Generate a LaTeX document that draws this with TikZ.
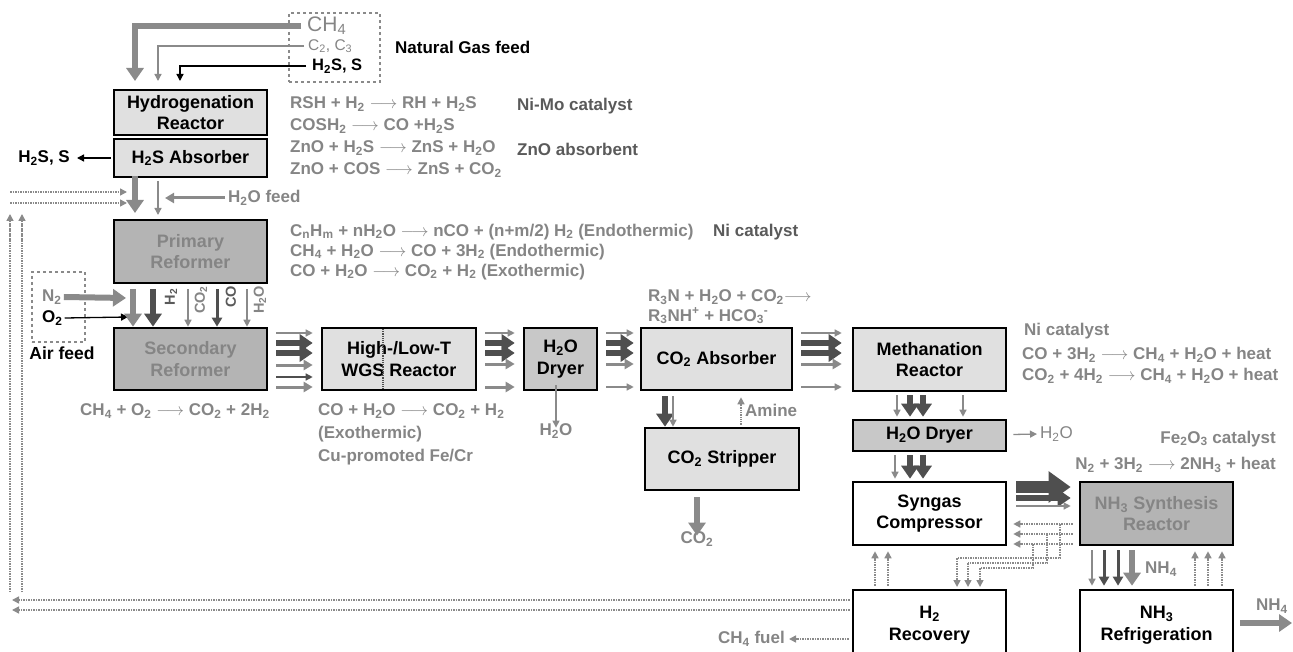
\documentclass[tikz,border=0pt]{standalone}
\usepackage{fontspec}
\setmainfont{Liberation Sans}
\usetikzlibrary{arrows.meta,calc}
\newcommand\sbs[1]{\textsubscript{#1}}
\newcommand\sps[1]{\textsuperscript{#1}}
\newcommand\ra{$\longrightarrow$}
\definecolor{txtgray}{HTML}{858585}
\definecolor{catgray}{HTML}{5A5A5A}
\definecolor{arrgray}{HTML}{8A8A8A}
\definecolor{arrdark}{HTML}{4F4F4F}
\definecolor{fillA}{HTML}{E0E0E0}
\definecolor{fillB}{HTML}{C8C8C8}
\definecolor{fillC}{HTML}{B4B4B4}
\begin{document}
\begin{tikzpicture}[x=1pt,y=-1pt,
  unit/.style={draw=black, line width=2.6pt, minimum width=153pt, minimum height=63pt, align=center, inner sep=0pt, font=\bfseries\fontsize{18}{21.5}\selectfont},
  eq/.style={anchor=west, inner sep=0pt, text=txtgray, font=\bfseries\fontsize{17}{20}\selectfont},
  cat/.style={anchor=west, inner sep=0pt, text=catgray, font=\bfseries\fontsize{17}{20}\selectfont},
  lbl/.style={inner sep=0pt, font=\bfseries\fontsize{17}{20}\selectfont},
  athin/.style={draw=arrgray, line width=1.3pt, -{Triangle[width=7pt,length=7pt]}},
  athind/.style={draw=arrdark, line width=1.3pt, -{Triangle[width=7pt,length=7pt]}},
  athinb/.style={draw=black, line width=1.3pt, -{Triangle[width=7pt,length=7pt]}},
  amed/.style={draw=arrgray, line width=3pt, -{Triangle[width=10pt,length=9pt]}},
  ameddark/.style={draw=arrdark, line width=3pt, -{Triangle[width=10pt,length=9pt]}},
  athick/.style={draw=arrdark, line width=6pt, -{Triangle[width=17pt,length=13pt]}},
  athickg/.style={draw=arrgray, line width=6pt, -{Triangle[width=17pt,length=13pt]}},
  ahuge/.style={draw=arrdark, line width=12pt, -{Triangle[width=30pt,length=22pt]}},
  recyc/.style={draw=arrgray, line width=1.5pt, densely dotted, -{Triangle[width=7pt,length=7pt]}},
  recycl/.style={draw=arrgray, line width=1.5pt, densely dotted},
]
\useasboundingbox (0,0) rectangle (1293,652);
\clip (0,0) rectangle (1293,652);

% ---------- natural gas feed ----------
\node[draw=arrgray, dashed, line width=1.8pt, minimum width=91pt, minimum height=69pt, inner sep=0pt] (ngbox) at (334.5,47.5) {};
\node[anchor=west, inner sep=0pt, text=txtgray, font=\fontsize{21}{24}\selectfont] (ch4) at (307,26) {CH\sbs{4}};
\node[anchor=west, inner sep=0pt, text=txtgray, font=\fontsize{15.5}{18}\selectfont] (c23) at (308,46) {C\sbs{2}, C\sbs{3}};
\node[anchor=west, inner sep=0pt, font=\bfseries\fontsize{16.5}{19}\selectfont] (h2sin) at (312,66) {H\sbs{2}S, S};
\node[lbl, anchor=west] (ngl) at (395,47) {Natural Gas feed};

% ---------- units ----------
\node[unit, fill=fillA, minimum height=45pt] (hyd) at (190.5,112.5) {Hydrogenation\\Reactor};
\node[unit, fill=fillA, minimum height=38pt] (abs) at (190.5,158) {H\sbs{2}S Absorber};
\node[unit, fill=fillC, text=txtgray] (prim) at (190.5,251.5) {Primary\\Reformer};
\node[unit, fill=fillC, text=txtgray, minimum height=62pt] (sec) at (190.5,359) {Secondary\\Reformer};
\node[unit, fill=fillA, minimum width=154pt, minimum height=62pt] (wgs) at (399,359) {High-/Low-T\\WGS Reactor};
\node[unit, fill=fillB, minimum width=73pt, minimum height=62pt] (dry1) at (560.5,359) {H\sbs{2}O\\Dryer};
\node[unit, fill=fillA, minimum width=151pt, minimum height=62pt] (absb) at (716.5,359) {CO\sbs{2} Absorber};
\node[unit, fill=fillA, minimum width=154pt, minimum height=62pt] (strip) at (722,459) {CO\sbs{2} Stripper};
\node[unit, fill=fillA] (meth) at (929.5,359.5) {Methanation\\Reactor};
\node[unit, fill=fillB, minimum height=31pt] (dry2) at (929.5,435.5) {H\sbs{2}O Dryer};
\node[unit, fill=white] (syn) at (929.5,513.5) {Syngas\\Compressor};
\node[unit, fill=fillC, text=txtgray] (nh3) at (1156.5,513.5) {NH\sbs{3} Synthesis\\Reactor};
\node[unit, fill=white, minimum height=70pt] (h2r) at (929.5,625) {H\sbs{2}\\Recovery};
\node[unit, fill=white, minimum height=70pt] (nh3r) at (1156.5,625) {NH\sbs{3}\\Refrigeration};
\draw[arrdark, line width=1.2pt, densely dotted] (383,329) -- (383,389);

% ---------- feed arrows ----------
\coordinate (f1) at (135,81);
\coordinate (f2) at (158,81);
\coordinate (f3) at (180,81);
\draw[athickg] ([xshift=-6pt]ch4.west) -| (f1);
\draw[athin] ([xshift=-4pt]c23.west) -| (f2);
\draw[athinb] ([xshift=-6pt]h2sin.west) -| (f3);

% ---------- hydrogenation / absorber ----------
\node[eq] (e1) at (290,104) {RSH + H\sbs{2} \ra{} RH + H\sbs{2}S};
\node[eq] (e2) at (290,126) {COSH\sbs{2} \ra{} CO +H\sbs{2}S};
\node[eq] (e3) at (290,148) {ZnO + H\sbs{2}S \ra{} ZnS + H\sbs{2}O};
\node[eq] (e4) at (290,170) {ZnO + COS \ra{} ZnS + CO\sbs{2}};
\node[cat] (c1) at (517,106) {Ni-Mo catalyst};
\node[cat] (c2) at (517,149) {ZnO absorbent};
\node[lbl, anchor=east] (h2sout) at (70,158) {H\sbs{2}S, S};
\draw[athinb] ([xshift=-2pt]abs.west) -- ([xshift=7pt]h2sout.east);
\draw[athickg] ([yshift=2pt]abs.south -| 135,0) -- (135,213);
\coordinate (g1) at (158,181);
\coordinate (g2) at (158,215);
\draw[athin] (g1) -- (g2);
\node[anchor=west, inner sep=0pt, text=txtgray, font=\bfseries\fontsize{17}{20}\selectfont] (h2of) at (228,198) {H\sbs{2}O feed};
\draw[amed] ([xshift=-3pt]h2of.west) -- (165,198);

% ---------- recycle lines ----------
\draw[recyc] (10,192) -- (127,192);
\draw[recyc] (10,203) -- (127,203);
\draw[recycl] (10,592) -- (10,216);
\draw[recyc] (10,240) -- (10,214);
\draw[recycl] (22,592) -- (22,216);
\draw[recyc] (22,240) -- (22,214);
\draw[recyc] ($(h2r.west|-0,600)+(-2,0)$) -- (12,600);
\draw[recyc] ($(h2r.west|-0,610)+(-2,0)$) -- (12,610);

% ---------- primary reformer ----------
\node[eq] (e5) at (290,232) {C\sbs{n}H\sbs{m} + nH\sbs{2}O \ra{} nCO + (n+m/2) H\sbs{2} (Endothermic)};
\node[eq] (e6) at (290,252) {CH\sbs{4} + H\sbs{2}O \ra{} CO + 3H\sbs{2} (Endothermic)};
\node[eq] (e7) at (290,272) {CO + H\sbs{2}O \ra{} CO\sbs{2} + H\sbs{2} (Exothermic)};
\node[cat] (c3) at (713,232) {Ni catalyst};

% ---------- air feed ----------
\node[draw=arrgray, dashed, line width=1.8pt, minimum width=53pt, minimum height=70pt, inner sep=0pt] (airbox) at (58.5,307) {};
\node[lbl, text=txtgray, anchor=west] (n2) at (42,297) {N\sbs{2}};
\node[lbl, anchor=west] (o2) at (42,318) {O\sbs{2}};
\node[lbl, font=\bfseries\fontsize{17.5}{20}\selectfont] (airl) at (62,353) {Air feed};
\draw[athickg] ([xshift=2pt]n2.east) -- (126,298);
\draw[athinb] ([xshift=2pt]o2.east) -- (128,317);

% ---------- primary -> secondary ----------
\foreach \xx/\st in {133/athickg, 153/athick, 188/athin, 217/ameddark, 247/athin}
  \draw[\st] (prim.south -| \xx,0) ++(0,5) -- (sec.north -| \xx,0);
\node[rotate=90, inner sep=0pt, text=catgray, font=\bfseries\fontsize{14.5}{16}\selectfont] (lh2) at (171,297) {H\sbs{2}};
\node[rotate=90, inner sep=0pt, text=txtgray, font=\bfseries\fontsize{14.5}{16}\selectfont] (lco2) at (201,300) {CO\sbs{2}};
\node[rotate=90, inner sep=0pt, text=catgray, font=\bfseries\fontsize{14.5}{16}\selectfont] (lco) at (231,297) {CO};
\node[rotate=90, inner sep=0pt, text=txtgray, font=\bfseries\fontsize{14.5}{16}\selectfont] (lh2o) at (260,300) {H\sbs{2}O};
\node[eq] (e8) at (80,411) {CH\sbs{4} + O\sbs{2} \ra{} CO\sbs{2} + 2H\sbs{2}};

% ---------- horizontal banks ----------
\foreach \yy/\st in {333/athin, 343/athick, 353/athick, 365/amed, 377/athind, 387/amed}
  \draw[\st] ($(sec.east|-0,\yy)+(8,0)$) -- ($(wgs.west|-0,\yy)+(-8,0)$);
\foreach \yy/\st in {333/athin, 343/athick, 353/athick, 364/amed, 387/amed}
  \draw[\st] ($(wgs.east|-0,\yy)+(8,0)$) -- ($(dry1.west|-0,\yy)+(-8,0)$);
\foreach \yy/\st in {333/athin, 343/athick, 353/athick, 364/amed, 387/athin}
  \draw[\st] ($(dry1.east|-0,\yy)+(8,0)$) -- ($(absb.west|-0,\yy)+(-6,0)$);
\foreach \yy/\st in {333/athin, 343/athick, 353/athick, 364/amed, 387/athin}
  \draw[\st] ($(absb.east|-0,\yy)+(8,0)$) -- ($(meth.west|-0,\yy)+(-10,0)$);

% ---------- WGS / dryer texts ----------
\node[eq] (e9) at (318,411) {CO + H\sbs{2}O \ra{} CO\sbs{2} + H\sbs{2}};
\node[eq] (e10) at (318,434) {(Exothermic)};
\node[eq] (e11) at (318,457) {Cu-promoted Fe/Cr};
\node[lbl, text=txtgray] (h2o1) at (556,431) {H\sbs{2}O};
\draw[athin] ([yshift=6pt]dry1.south -| h2o1.north) -- ([yshift=-4pt]h2o1.north);

% ---------- absorber / stripper ----------
\node[eq] (e12) at (648,297) {R\sbs{3}N + H\sbs{2}O + CO\sbs{2}\ra};
\node[eq] (e13) at (648,316) {R\sbs{3}NH\sps{+} + HCO\sbs{3}\sps{-}};
\draw[athick] ($(absb.south -| 665,0)+(0,5)$) -- (strip.north -| 665,0);
\draw[athin] ($(absb.south -| 673,0)+(0,5)$) -- (strip.north -| 673,0);
\draw[athin, densely dotted] ($(strip.north -| 741,0)+(0,-2)$) -- ($(absb.south -| 741,0)+(0,6)$);
\node[lbl, text=txtgray, anchor=west] (amine) at (745,410) {Amine};
\node[lbl, text=txtgray] (co2out) at (697,539) {CO\sbs{2}};
\draw[athickg] ($(strip.south -| 697,0)+(0,6)$) -- ([yshift=-4pt]co2out.north);

% ---------- methanation ----------
\node[cat, text=txtgray] (c4) at (1024,331) {Ni catalyst};
\node[eq] (e14) at (1022,355) {CO + 3H\sbs{2} \ra{} CH\sbs{4} + H\sbs{2}O + heat};
\node[eq] (e15) at (1022,376) {CO\sbs{2} + 4H\sbs{2} \ra{} CH\sbs{4} + H\sbs{2}O + heat};
\foreach \xx/\st in {897/athin, 910/athick, 923/athick, 963/athin}
  \draw[\st] ($(meth.south -| \xx,0)+(0,3)$) -- ($(dry2.north -| \xx,0)+(0,-2)$);
\node[lbl, text=txtgray, anchor=west, font=\fontsize{17}{20}\selectfont] (h2o2) at (1040,434) {H\sbs{2}O};
\draw[athin] ($(dry2.east)+(6,-1)$) -- ([xshift=-3pt]h2o2.west);
\foreach \xx/\st in {895/athin, 910/athick, 923/athick}
  \draw[\st] ($(dry2.south -| \xx,0)+(0,3)$) -- ($(syn.north -| \xx,0)+(0,-2)$);

% ---------- ammonia synthesis ----------
\node[cat, text=txtgray, anchor=east] (c5) at (1276,439) {Fe\sbs{2}O\sbs{3} catalyst};
\node[eq, anchor=east] (e16) at (1276,465) {N\sbs{2} + 3H\sbs{2} \ra{} 2NH\sbs{3} + heat};
\draw[ahuge] ($(syn.east|-0,487)+(9,0)$) -- ($(nh3.west|-0,487)+(-8,0)$);
\draw[athick] ($(syn.east|-0,498)+(9,0)$) -- ($(nh3.west|-0,498)+(-8,0)$);
\draw[athin] ($(syn.east|-0,506)+(9,0)$) -- ($(nh3.west|-0,506)+(-8,0)$);
\foreach \yy in {524,534,544}
  \draw[recyc] ($(nh3.west|-0,\yy)+(-6,0)$) -- ($(syn.east|-0,\yy)+(6,0)$);
\draw[recycl] (1060,524) -- (1060,558) -- (957,558);
\draw[recyc] (957,558) -- (957,587);
\draw[recycl] (1047,534) -- (1047,563) -- (968,563);
\draw[recyc] (968,563) -- (968,587);
\draw[recycl] (1033,544) -- (1033,568) -- (980,568);
\draw[recyc] (980,568) -- (980,587);

\foreach \xx/\st in {1092/athin, 1104/ameddark, 1118/ameddark}
  \draw[\st] ($(nh3.south -| \xx,0)+(0,4)$) -- ($(nh3r.north -| \xx,0)+(0,-3)$);
\draw[draw=arrgray, line width=6pt, -{Triangle[width=17pt,length=13pt]}] ($(nh3.south -| 1132,0)+(0,4)$) -- ($(nh3r.north -| 1132,0)+(0,-3)$);
\node[lbl, text=txtgray, anchor=west] (nh4a) at (1145,569) {NH\sbs{4}};
\foreach \xx in {1195,1208,1222}
  \draw[recyc] ($(nh3r.north -| \xx,0)+(0,-3)$) -- ($(nh3.south -| \xx,0)+(0,5)$);
\foreach \xx in {875,888}
  \draw[recyc] ($(h2r.north -| \xx,0)+(0,-3)$) -- ($(syn.south -| \xx,0)+(0,5)$);

\node[lbl, text=txtgray] (nh4b) at (1272,606) {NH\sbs{4}};
\coordinate (nh4end) at (1292,623);
\draw[athickg] ($(nh3r.east|-0,623)+(6,0)$) -- (nh4end);

\node[lbl, text=txtgray, anchor=east] (ch4f) at (785,639) {CH\sbs{4} fuel};
\draw[recyc] ($(h2r.west|-0,639)+(-3,0)$) -- ([xshift=4pt]ch4f.east);
\end{tikzpicture}
\end{document}
